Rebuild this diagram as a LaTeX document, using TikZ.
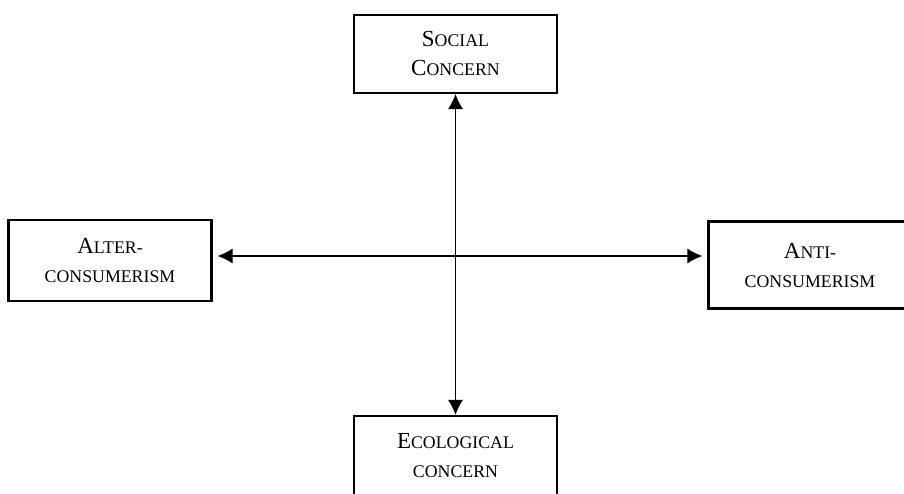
\documentclass[tikz,border=0pt]{standalone}
\usepackage{fontspec}
\setmainfont{Liberation Serif}
\usetikzlibrary{arrows.meta}
\newcommand{\bigsc}[2]{#1{\fontsize{17.8}{28}\selectfont #2}}
\begin{document}
\begin{tikzpicture}[x=1pt,y=-1pt,>={Latex[length=15pt,width=15pt]},
	box/.style={draw,line width=2.2pt,minimum width=203pt,align=center,inner sep=0pt,font=\fontsize{23}{29}\selectfont},
	conn/.style={<->,line width=1.2pt}]
	\useasboundingbox (0,0) rectangle (904,494);
	\node[box,minimum height=78pt] (social) at (455.5,54) {\bigsc{S}{OCIAL}\\\bigsc{C}{ONCERN}};
	\node[box,minimum height=81pt] (alter) at (110,260.5) {\bigsc{A}{LTER-}\\\bigsc{}{CONSUMERISM}};
	\node[box,minimum height=87pt] (anti) at (810,265) {\bigsc{A}{NTI-}\\\bigsc{}{CONSUMERISM}};
	\node[box,minimum height=80pt] (eco) at (455.5,456) {\bigsc{E}{COLOGICAL}\\\bigsc{}{CONCERN}};
	\coordinate (mid) at (455,256);
	\draw[conn,line width=1pt] (social.south) -- (eco.north);
	\draw[conn] ([xshift=5pt]alter.east |- mid) -- ([xshift=-5pt]anti.west |- mid);
\end{tikzpicture}
\end{document}
